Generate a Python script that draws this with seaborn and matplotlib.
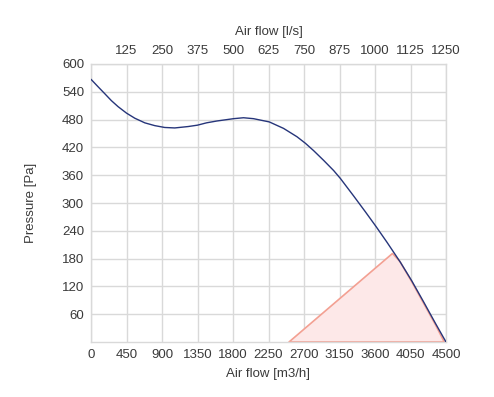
import matplotlib

matplotlib.use("Agg")

import matplotlib.pyplot as plt
import numpy as np
import pandas as pd
import seaborn as sns

# fan curve
FLOW_M3H = [0, 89, 174, 258, 343, 450, 555, 682, 808, 935, 1062, 1231, 1350,
            1464, 1596, 1807, 1933, 2060, 2260, 2441, 2611, 2717, 2822, 2949,
            3076, 3161, 3330, 3478, 3614, 3753, 3922, 4066, 4218, 4367, 4500]
PRESSURE_PA = [567, 551, 536, 521, 508, 494, 483, 473, 467, 463, 462, 465, 468,
               473, 477, 482, 484, 482, 475, 461, 443, 429, 413, 392,
               370, 353, 315, 281, 249, 215, 172, 132, 86, 40, 0]

# shaded working area
AREA_FLOW = [2510, 3821, 3915, 4066, 4218, 4367, 4478]
AREA_PRESSURE = [0, 191, 174, 130, 83, 37, 0]

X_TICKS = list(range(0, 4501, 450))
Y_TICKS = list(range(60, 601, 60))
TOP_TICKS = list(range(125, 1251, 125))

TEXT_COLOR = "#3a3a3a"
GRID_COLOR = "#d9d9d9"
LINE_COLOR = "#26357a"
EDGE_COLOR = "#f3a092"
FILL_COLOR = "#fde8e8"

sns.set_style("white")
plt.rcParams["font.family"] = ["Liberation Sans", "DejaVu Sans"]
plt.rcParams["font.size"] = 9.5

fig = plt.figure(figsize=(4.94, 3.97), dpi=100)
ax = fig.add_axes([91 / 494, 1 - 342 / 397, 355 / 494, 278 / 397])

ax.fill(AREA_FLOW, AREA_PRESSURE, facecolor=FILL_COLOR, edgecolor=EDGE_COLOR,
        linewidth=1.2, joinstyle="round", zorder=2)

curve = pd.DataFrame({"flow": FLOW_M3H, "pressure": PRESSURE_PA})
sns.lineplot(data=curve, x="flow", y="pressure", color=LINE_COLOR,
             linewidth=1.0, ax=ax, zorder=3)

ax.set_xlim(0, 4500)
ax.set_ylim(0, 600)
ax.set_xticks(X_TICKS)
ax.set_yticks(Y_TICKS)
ax.grid(True, color=GRID_COLOR, linewidth=1.0, zorder=0)
ax.set_axisbelow(True)
for spine in ax.spines.values():
    spine.set_color(GRID_COLOR)
    spine.set_linewidth(1.0)
ax.tick_params(length=0, colors=TEXT_COLOR, labelsize=9.5)
ax.tick_params(axis="x", pad=5)
ax.tick_params(axis="y", pad=5)
ax.set_xlabel("Air flow [m3/h]", color=TEXT_COLOR, fontsize=9.5, labelpad=5)
ax.set_ylabel("Pressure [Pa]", color=TEXT_COLOR, fontsize=9.5, labelpad=18)

# l/s on top: 1 l/s = 3.6 m3/h
top = ax.secondary_xaxis("top", functions=(lambda v: np.asarray(v) / 3.6,
                                           lambda v: np.asarray(v) * 3.6))
top.set_xticks(TOP_TICKS)
top.tick_params(length=0, colors=TEXT_COLOR, labelsize=9.5, pad=5)
top.spines["top"].set_visible(False)
top.set_xlabel("Air flow [l/s]", color=TEXT_COLOR, fontsize=9.5, labelpad=7)

fig.savefig("out.png", dpi=100)
plt.close(fig)
